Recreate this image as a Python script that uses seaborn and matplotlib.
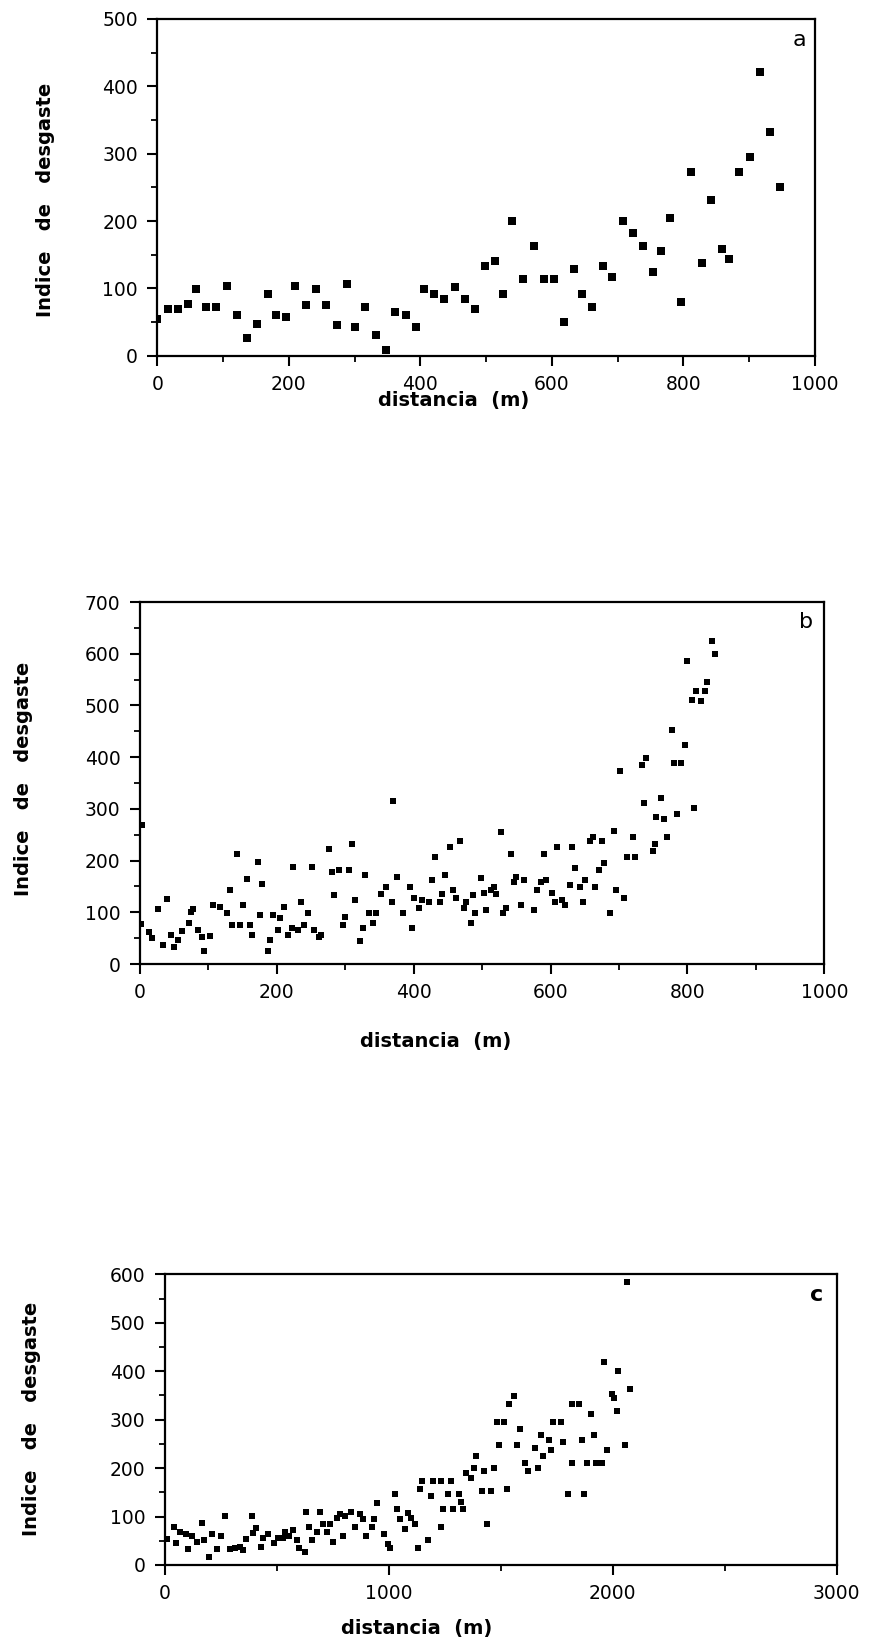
import matplotlib
matplotlib.use("Agg")
import matplotlib.pyplot as plt
from matplotlib.ticker import MultipleLocator
import seaborn as sns
import pandas as pd

# ---------------- data ----------------
dist_a = [0, 16, 32, 47, 59, 74, 90, 106, 121, 137, 152, 168, 180, 195, 210, 226, 242, 257, 273, 288,
          301, 316, 332, 347, 362, 378, 394, 406, 421, 436, 452, 468, 483, 499, 513, 526, 540, 556, 572, 588,
          603, 619, 634, 646, 661, 677, 692, 708, 723, 738, 754, 766, 780, 796, 811, 828, 842, 859, 870, 885,
          901, 916, 932, 947]
idx_a = [54, 69, 69, 77, 99, 73, 73, 103, 61, 27, 47, 92, 61, 58, 103, 76, 99, 76, 46, 106,
         42, 73, 31, 8, 65, 61, 42, 99, 91, 84, 102, 84, 69, 133, 141, 92, 200, 114, 163, 114,
         114, 50, 129, 92, 72, 133, 117, 200, 182, 163, 125, 155, 204, 80, 273, 137, 231, 159, 144, 273,
         295, 422, 332, 250]

dist_b = [3, 2, 13, 18, 27, 34, 40, 45, 49, 56, 62, 71, 74, 78, 85, 90, 93, 102, 107, 117,
          127, 131, 135, 142, 146, 150, 157, 161, 164, 172, 175, 179, 187, 190, 195, 202, 205, 210, 217, 222,
          224, 231, 235, 240, 246, 251, 254, 262, 265, 276, 280, 284, 291, 296, 300, 306, 310, 314, 322, 326,
          329, 334, 341, 345, 352, 360, 368, 370, 375, 384, 394, 397, 400, 408, 412, 422, 426, 431, 438, 442,
          446, 453, 458, 462, 468, 473, 476, 483, 487, 490, 498, 502, 506, 513, 517, 520, 528, 531, 535, 542,
          546, 550, 557, 561, 576, 580, 586, 590, 594, 602, 606, 610, 617, 621, 628, 631, 636, 643, 647, 650,
          657, 662, 665, 671, 675, 678, 687, 692, 695, 701, 707, 711, 724, 721, 733, 740, 736, 749, 752, 754,
          762, 766, 770, 777, 780, 791, 785, 796, 799, 810, 806, 813, 820, 826, 829, 836, 841]
idx_b = [268, 77, 61, 50, 106, 37, 125, 56, 32, 46, 63, 80, 101, 106, 66, 52, 25, 55, 114, 110,
         99, 144, 76, 212, 76, 114, 164, 76, 56, 198, 95, 154, 26, 46, 95, 66, 88, 110, 56, 70,
         187, 66, 120, 76, 99, 187, 66, 52, 56, 222, 178, 134, 182, 76, 90, 182, 232, 123, 45, 70,
         172, 99, 79, 99, 136, 148, 119, 316, 168, 98, 148, 69, 128, 109, 124, 119, 163, 206, 119, 135,
         172, 226, 143, 128, 237, 109, 119, 79, 134, 98, 167, 138, 105, 143, 148, 135, 256, 98, 108, 212,
         158, 169, 114, 163, 105, 143, 158, 212, 163, 138, 119, 226, 124, 114, 153, 226, 186, 148, 119, 163,
         237, 246, 148, 182, 237, 195, 98, 257, 143, 374, 128, 206, 206, 246, 384, 399, 311, 219, 232, 285,
         321, 280, 245, 452, 388, 388, 290, 423, 585, 301, 511, 527, 509, 527, 545, 624, 600]

dist_c = [7, 40, 49, 67, 94, 104, 119, 141, 164, 174, 198, 208, 231, 250, 268, 290, 313, 335, 350, 362,
          387, 392, 406, 429, 439, 462, 487, 506, 526, 536, 555, 573, 588, 600, 625, 630, 645, 655, 677, 692,
          704, 722, 737, 749, 767, 782, 794, 804, 831, 849, 871, 886, 898, 923, 933, 945, 980, 995,
          1005, 1027, 1038, 1049, 1072, 1084, 1098, 1117, 1132, 1139, 1149, 1173, 1187, 1199, 1232, 1232,
          1243, 1265, 1276, 1288, 1313, 1320, 1332, 1344, 1365, 1380, 1389, 1414, 1425, 1437, 1458, 1469,
          1482, 1493, 1516, 1529, 1538, 1560, 1574, 1586, 1609, 1622, 1652, 1666, 1678, 1690, 1713, 1722,
          1731, 1767, 1779, 1801, 1816, 1816, 1851, 1861, 1871, 1883, 1903, 1918, 1925, 1950, 1961, 1973,
          1995, 2007, 2017, 2025, 2054, 2062, 2077]
idx_c = [53, 78, 45, 69, 63, 34, 59, 48, 86, 52, 17, 65, 33, 59, 101, 33, 36, 38, 31, 54,
         101, 67, 76, 38, 55, 65, 45, 55, 55, 69, 59, 72, 52, 36, 26, 110, 78, 52, 69, 110,
         84, 69, 84, 48, 96, 105, 59, 102, 110, 78, 105, 95, 59, 79, 95, 127, 63, 43,
         36, 147, 115, 94, 74, 107, 96, 84, 36, 157, 173, 52, 142, 173, 173, 79,
         115, 146, 173, 115, 146, 131, 115, 189, 179, 200, 226, 153, 194, 84, 153, 200,
         296, 248, 296, 157, 332, 348, 248, 280, 210, 194, 241, 200, 268, 226, 257, 237,
         296, 296, 253, 147, 210, 332, 332, 257, 147, 210, 311, 268, 210, 210, 420, 237,
         352, 344, 317, 400, 248, 585, 363]

xlabel = "distancia  (m)"
ylabel = "Indice   de   desgaste"
letters = ["a", "b", "c"]

# ---------------- style ----------------
sns.set_style("ticks")
plt.rcParams["font.family"] = ["DejaVu Sans"]
plt.rcParams["text.color"] = "black"
plt.rcParams["axes.labelcolor"] = "black"
plt.rcParams["xtick.color"] = "black"
plt.rcParams["ytick.color"] = "black"

fig = plt.figure(figsize=(8.7, 16.41), dpi=100)

W, H = 870.0, 1641.0
panels = [
    dict(box=(157.3, 815.0, 19.0, 355.7), x=dist_a, y=idx_a, xlim=(0, 1000), ylim=(0, 500),
         xmaj=200, xmin=100, ymaj=100, ymin=50, s=26,
         xl=(0.451, -0.106), yl=(-0.156, 0.462), let=(0.977, 0.938), letw="normal"),
    dict(box=(140.0, 824.3, 602.0, 964.0), x=dist_b, y=idx_b, xlim=(0, 1000), ylim=(0, 700),
         xmaj=200, xmin=100, ymaj=100, ymin=50, s=20,
         xl=(0.432, -0.189), yl=(-0.157, 0.511), let=(0.974, 0.946), letw="normal"),
    dict(box=(165.0, 836.7, 1274.3, 1565.0), x=dist_c, y=idx_c, xlim=(0, 3000), ylim=(0, 600),
         xmaj=1000, xmin=500, ymaj=100, ymin=50, s=17,
         xl=(0.374, -0.186), yl=(-0.1846, 0.502), let=(0.970, 0.929), letw="bold"),
]

for p, letter in zip(panels, letters):
    l, r, t, b = p["box"]
    ax = fig.add_axes([l / W, 1 - b / H, (r - l) / W, (b - t) / H])
    df = pd.DataFrame({"distancia": p["x"], "indice": p["y"]})
    sns.scatterplot(data=df, x="distancia", y="indice", ax=ax, marker="s",
                    color="black", s=p["s"], linewidth=0, legend=False)
    ax.set_xlim(*p["xlim"])
    ax.set_ylim(*p["ylim"])
    ax.xaxis.set_major_locator(MultipleLocator(p["xmaj"]))
    ax.xaxis.set_minor_locator(MultipleLocator(p["xmin"]))
    ax.yaxis.set_major_locator(MultipleLocator(p["ymaj"]))
    ax.yaxis.set_minor_locator(MultipleLocator(p["ymin"]))
    for sp in ax.spines.values():
        sp.set_visible(True)
        sp.set_linewidth(1.6)
        sp.set_color("black")
    ax.tick_params(which="major", direction="out", length=7, width=1.5,
                   labelsize=13.5, pad=7, colors="black")
    ax.tick_params(which="minor", direction="out", length=4, width=1.3, colors="black")
    ax.tick_params(top=False, right=False, which="both")
    ax.set_xlabel(xlabel, fontsize=14, fontweight="bold", color="black")
    ax.set_ylabel(ylabel, fontsize=14, fontweight="bold", color="black")
    ax.xaxis.set_label_coords(*p["xl"])
    ax.yaxis.set_label_coords(*p["yl"])
    ax.text(p["let"][0], p["let"][1], letter, transform=ax.transAxes, fontsize=16,
            fontweight=p["letw"], ha="center", va="center", color="black")

fig.savefig("out.png", dpi=100)
